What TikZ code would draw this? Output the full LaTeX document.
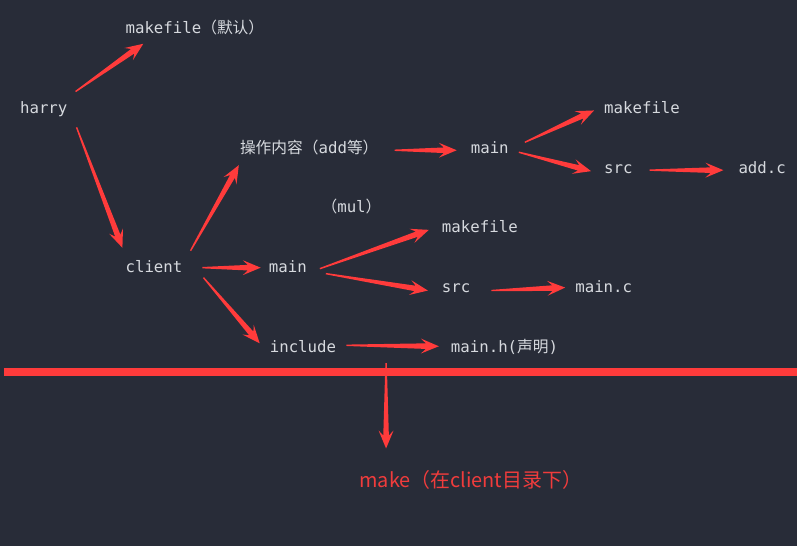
\documentclass[tikz,border=0pt]{standalone}
\usepackage{fontspec}
\setmainfont{DejaVu Sans Mono}
\newfontfamily\cjk{Noto Sans CJK SC}
\usetikzlibrary{calc}

\definecolor{bgdark}{HTML}{282C38}
\definecolor{txtgray}{HTML}{D6D9DE}
\definecolor{arrowred}{HTML}{FF3B3B}
\definecolor{makered}{HTML}{F03C3C}

\tikzset{
  lbl/.style={anchor=base west, inner sep=0pt, text=txtgray,
    font=\fontsize{15.8}{18}\selectfont, text height=11pt, text depth=3pt},
  cmd/.style={anchor=base west, inner sep=0pt, text=makered,
    font=\cjk\fontsize{20}{24}\selectfont},
}

% tapered red arrow: #1 tail, #2 tip
\newcommand\redtaper[2]{%
  \path #1 coordinate (tl) #2 coordinate (tp);
  \coordinate (jn) at ($(tp)!13pt!(tl)$);
  \coordinate (bb) at ($(tp)!18pt!(tl)$);
  \fill[arrowred] ($(tl)!0.7pt!90:(tp)$) -- ($(jn)!2.8pt!90:(tp)$)
    -- ($(bb)!7.5pt!90:(tp)$) -- (tp) -- ($(bb)!7.5pt!-90:(tp)$)
    -- ($(jn)!2.8pt!-90:(tp)$) -- ($(tl)!0.7pt!-90:(tp)$) -- cycle;}

\begin{document}
\begin{tikzpicture}[x=1pt,y=-1pt]
  \fill[bgdark] (0,0) rectangle (801,549);

  % tree
  \node[lbl] (mkdef)  at (126,34)  {makefile{\cjk （默认）}};
  \node[lbl] (harry)  at (20,114)  {harry};
  \node[lbl] (ops)    at (241,154) {{\cjk 操作内容（}add{\cjk 等）}};
  \node[lbl] (mainA)  at (473,154) {main};
  \node[lbl] (mkA)    at (607,114) {makefile};
  \node[lbl] (srcA)   at (607,174) {src};
  \node[lbl] (addc)   at (742,174) {add.c};
  \node[lbl] (mul)    at (323,214) {{\cjk （}mul{\cjk ）}};
  \node[lbl] (client) at (126,274) {client};
  \node[lbl] (mainB)  at (270,274) {main};
  \node[lbl] (mkB)    at (444,234) {makefile};
  \node[lbl] (srcB)   at (444,294) {src};
  \node[lbl] (mainc)  at (578,294) {main.c};
  \node[lbl] (incl)   at (271,354) {include};
  \node[lbl] (mainh)  at (453,354) {main.h({\cjk 声明})};

  \redtaper{($(harry.east)+(8,-18)$)}{($(mkdef.west)+(18,14)$)}
  \redtaper{($(harry.east)+(9,18)$)}{($(client.west)+(-3,-21)$)}
  \redtaper{($(client.east)+(8,-18)$)}{($(ops.west)+(-1,16)$)}
  \redtaper{($(ops.east)+(16,1)$)}{($(mainA.west)+(-14,1)$)}
  \redtaper{($(mainA.east)+(16,-7)$)}{($(mkA.west)+(-10,1)$)}
  \redtaper{($(mainA.east)+(10,3)$)}{($(srcA.west)+(-13,2)$)}
  \redtaper{($(srcA.east)+(17,1)$)}{($(addc.west)+(-15,1)$)}
  \redtaper{($(client.east)+(20,-1)$)}{($(mainB.west)+(-8,-1)$)}
  \redtaper{($(mainB.east)+(13,0)$)}{($(mkB.west)+(-13,1)$)}
  \redtaper{($(mainB.east)+(19,5)$)}{($(srcB.west)+(-14,2)$)}
  \redtaper{($(srcB.east)+(21,2)$)}{($(mainc.west)+(-10,-1)$)}
  \redtaper{($(client.east)+(21,9)$)}{($(incl.west)+(-10,-5)$)}
  \redtaper{($(incl.east)+(10,-3)$)}{($(mainh.west)+(-12,-2)$)}

  % build step
  \draw[arrowred, line width=8pt] (4,374) -- (801,374);
  \node[cmd] (make) at (361,490) {make（在client目录下）};
  \coordinate (drop) at (388,365);
  \redtaper{(drop)}{($(make.north west)+(27,-22)$)}
\end{tikzpicture}
\end{document}
